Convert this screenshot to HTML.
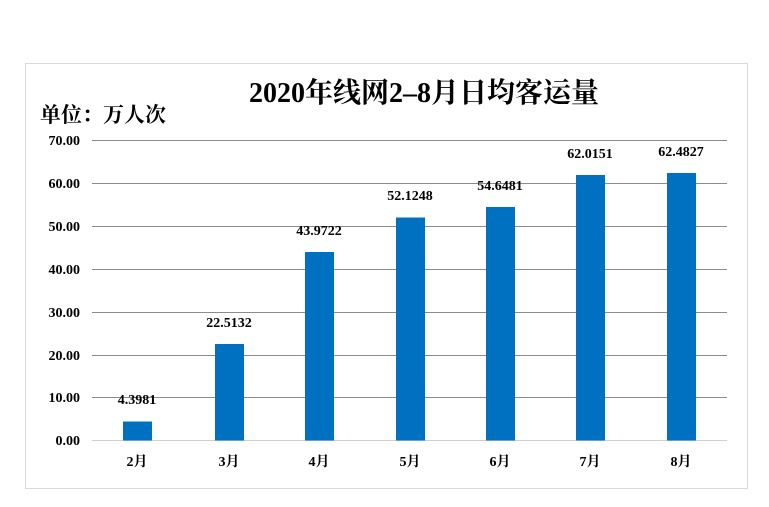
<!DOCTYPE html>
<html><head><meta charset="utf-8"><style>
html,body{margin:0;padding:0;background:#fff;}
svg{display:block;font-family:"Liberation Serif","Noto Serif CJK SC",serif;}
</style></head><body>
<svg width="769" height="507" viewBox="0 0 769 507" xmlns="http://www.w3.org/2000/svg">
<rect x="25.5" y="63.5" width="722" height="425" fill="#fff" stroke="#d9d9d9"/>
<text x="424" y="102" text-anchor="middle" font-size="28" font-weight="bold" fill="#000">2020年线网2–8月日均客运量</text>
<text x="40" y="122" font-size="21" font-weight="bold" fill="#000">单位：万人次</text>
<g stroke="#8c8c8c" stroke-width="1">
<line x1="92" x2="727" y1="140.5" y2="140.5"/>
<line x1="92" x2="727" y1="183.5" y2="183.5"/>
<line x1="92" x2="727" y1="226.5" y2="226.5"/>
<line x1="92" x2="727" y1="269.5" y2="269.5"/>
<line x1="92" x2="727" y1="312.5" y2="312.5"/>
<line x1="92" x2="727" y1="355.5" y2="355.5"/>
<line x1="92" x2="727" y1="397.5" y2="397.5"/>
<line x1="92" x2="727" y1="440.5" y2="440.5" stroke="#d0d0d0"/>
</g>
<g font-size="14" font-weight="bold" fill="#000" text-anchor="end">
<text x="80" y="145">70.00</text>
<text x="80" y="188">60.00</text>
<text x="80" y="231">50.00</text>
<text x="80" y="274">40.00</text>
<text x="80" y="317">30.00</text>
<text x="80" y="360">20.00</text>
<text x="80" y="402">10.00</text>
<text x="80" y="445">0.00</text>
</g>
<g fill="#0070c0">
<rect x="123" y="421.5" width="29" height="19"/>
<rect x="215" y="344" width="29" height="96.5"/>
<rect x="305" y="252" width="29" height="188.5"/>
<rect x="396" y="217.5" width="29" height="223"/>
<rect x="486" y="207" width="29" height="233.5"/>
<rect x="576" y="175" width="29" height="265.5"/>
<rect x="667" y="173" width="29" height="267.5"/>
</g>
<g font-size="14" font-weight="bold" fill="#000" text-anchor="middle">
<text x="137" y="404">4.3981</text>
<text x="229" y="327">22.5132</text>
<text x="319" y="235">43.9722</text>
<text x="410" y="200">52.1248</text>
<text x="500" y="190">54.6481</text>
<text x="590" y="158">62.0151</text>
<text x="681" y="156">62.4827</text>
</g>
<g font-size="14" font-weight="bold" fill="#000" text-anchor="middle">
<text x="137" y="466">2月</text>
<text x="229" y="466">3月</text>
<text x="319" y="466">4月</text>
<text x="410" y="466">5月</text>
<text x="500" y="466">6月</text>
<text x="590" y="466">7月</text>
<text x="681" y="466">8月</text>
</g>
</svg>
</body></html>
